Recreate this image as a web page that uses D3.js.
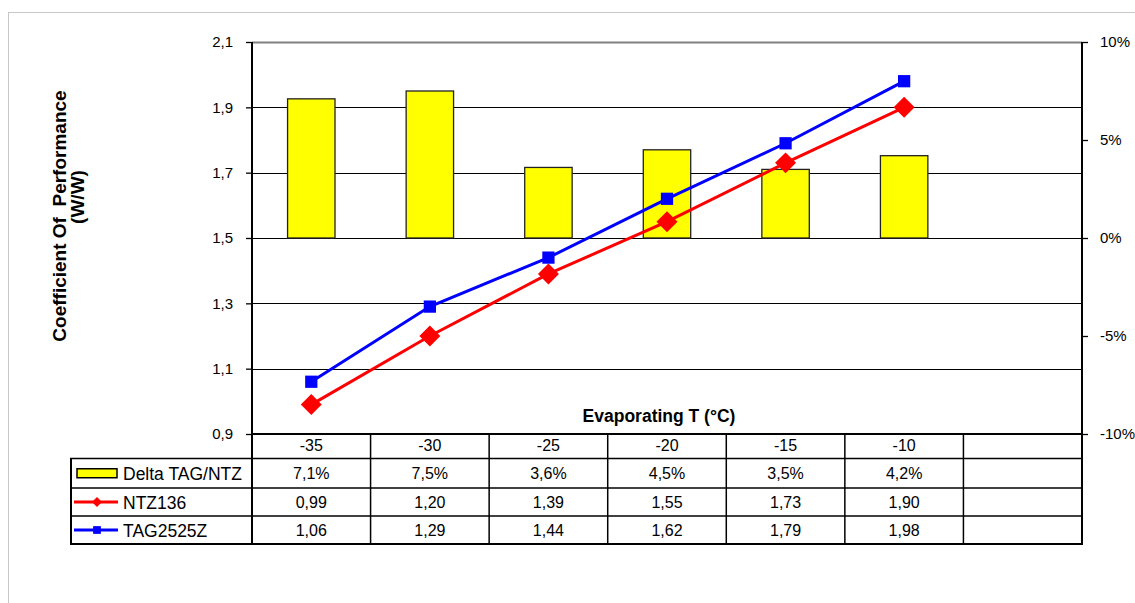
<!DOCTYPE html>
<html><head><meta charset="utf-8">
<script src="https://cdn.jsdelivr.net/npm/d3@7"></script>
<style>
html,body{margin:0;padding:0;background:#fff;}
text{font-family:"Liberation Sans",Arial,sans-serif;}
</style></head>
<body>
<svg id="chart" width="1135" height="603"></svg>
<script>
const categories = ["-35","-30","-25","-20","-15","-10",""];
const deltaValues = [0.071,0.075,0.036,0.045,0.035,0.042];
const ntzValues = [0.99,1.20,1.39,1.55,1.73,1.90];
const tagValues = [1.06,1.29,1.44,1.62,1.79,1.98];
const leftTicks = [0.9,1.1,1.3,1.5,1.7,1.9,2.1];
const rightTicks = [-0.10,-0.05,0,0.05,0.10];
const seriesNames = ["Delta TAG/NTZ","NTZ136","TAG2525Z"];

const loc = d3.formatLocale({decimal:",",thousands:".",grouping:[3],currency:["","€"],percent:"%",minus:"-"});
const fmt1 = loc.format(".1f"), fmt2 = loc.format(".2f"), pct0 = loc.format(".0%"), pct1 = loc.format(".1%");

const svg = d3.select("#chart");
// outer frame
svg.append("rect").attr("x",8.5).attr("y",12.5).attr("width",1200).attr("height",700)
  .attr("fill","none").attr("stroke","#c8c8c8").attr("stroke-width",1);

const L=252, R=1082, T=42, B=434;
const x = d3.scaleBand().domain(categories.map((c,i)=>i)).range([L,R]).paddingInner(0).paddingOuter(0);
const yL = d3.scaleLinear().domain([0.9,2.1]).range([B,T]);
const yR = d3.scaleLinear().domain([-0.10,0.10]).range([B,T]);
const cx = i => x(i)+x.bandwidth()/2;

// gridlines
svg.append("g").selectAll("line").data(leftTicks.slice(1)).join("line")
  .attr("x1",L).attr("x2",R).attr("y1",d=>Math.round(yL(d))+0.5).attr("y2",d=>Math.round(yL(d))+0.5)
  .attr("stroke",(d,i,a)=> i===a.length-1 ? "#808080" : "#000").attr("stroke-width",d=>d===2.1?2:1.2);

// bars
const bw = x.bandwidth()*0.4;
svg.append("g").selectAll("rect").data(deltaValues).join("rect")
  .attr("x",(d,i)=>cx(i)-bw/2).attr("width",bw)
  .attr("y",d=>yR(Math.max(0,d))).attr("height",d=>Math.abs(yR(d)-yR(0)))
  .attr("fill","#ffff00").attr("stroke","#222").attr("stroke-width",1.3);

// axes
const axL = d3.axisLeft(yL).tickValues(leftTicks).tickFormat(fmt1).tickSize(6).tickPadding(13);
const gL = svg.append("g").attr("transform",`translate(${L},0)`).call(axL);
const axR = d3.axisRight(yR).tickValues(rightTicks).tickFormat(pct0).tickSize(6).tickPadding(12);
const gR = svg.append("g").attr("transform",`translate(${R},0)`).call(axR);
[gL,gR].forEach(g=>{
  g.select(".domain").attr("stroke","#000").attr("stroke-width",2).attr("d",`M0,${T}V${B}`);
  g.selectAll(".tick line").attr("stroke","#000").attr("stroke-width",1.3);
  g.selectAll(".tick text").attr("font-size",15).attr("fill","#000").attr("font-family","Liberation Sans, Arial, sans-serif");
});

// lines
const lineGen = d3.line().x((d,i)=>cx(i)).y(d=>yL(d));
svg.append("path").datum(ntzValues).attr("d",lineGen).attr("fill","none").attr("stroke","#ff0000").attr("stroke-width",3);
svg.append("path").datum(tagValues).attr("d",lineGen).attr("fill","none").attr("stroke","#0000ff").attr("stroke-width",3);
svg.append("g").selectAll("path").data(ntzValues).join("path")
  .attr("transform",(d,i)=>`translate(${cx(i)},${yL(d)}) rotate(45)`)
  .attr("d",d3.symbol().type(d3.symbolSquare).size(220)).attr("fill","#ff0000");
svg.append("g").selectAll("path").data(tagValues).join("path")
  .attr("transform",(d,i)=>`translate(${cx(i)},${yL(d)})`)
  .attr("d",d3.symbol().type(d3.symbolSquare).size(150)).attr("fill","#0000ff");

// axis titles
svg.append("text").attr("x",659).attr("y",422).attr("text-anchor","middle")
  .attr("font-size",17.5).attr("font-weight","bold").text("Evaporating T (°C)");
const yt = svg.append("g");
yt.append("text").attr("transform","translate(66,216) rotate(-90)").attr("text-anchor","middle")
  .attr("font-size",19).attr("font-weight","bold").style("white-space","pre").text("Coefficient Of  Performance");
yt.append("text").attr("transform","translate(84,197) rotate(-90)").attr("text-anchor","middle")
  .attr("font-size",19).attr("font-weight","bold").text("(W/W)");

// data table
const rows = [B, 458.5, 488, 516, 544];
const tg = svg.append("g");
tg.selectAll("text.hdr").data(categories).join("text").attr("class","hdr")
  .attr("x",(d,i)=>cx(i)).attr("y",451).attr("text-anchor","middle").attr("font-size",16).text(d=>d);
const tableRows = [deltaValues.map(pct1), ntzValues.map(fmt2), tagValues.map(fmt2)];
tableRows.forEach((vals,r)=>{
  const yc = (rows[r+1]+rows[r+2])/2;
  tg.selectAll(null).data(vals).join("text")
    .attr("x",(d,i)=>cx(i)).attr("y",yc+6).attr("text-anchor","middle").attr("font-size",16).text(d=>d);
  tg.append("text").attr("x",123).attr("y",yc+6.5).attr("font-size",17.5).text(seriesNames[r]);
});
[458.5,488,516].forEach(y=>tg.append("line").attr("x1",70).attr("x2",R).attr("y1",y).attr("y2",y).attr("stroke","#000").attr("stroke-width",1.5));
tg.append("line").attr("x1",70).attr("x2",R+1).attr("y1",544).attr("y2",544).attr("stroke","#000").attr("stroke-width",2);
tg.append("line").attr("x1",71).attr("x2",71).attr("y1",458.5).attr("y2",544).attr("stroke","#000").attr("stroke-width",2);
tg.append("line").attr("x1",L).attr("x2",L).attr("y1",B).attr("y2",544).attr("stroke","#000").attr("stroke-width",2);
tg.append("line").attr("x1",R).attr("x2",R).attr("y1",B).attr("y2",545).attr("stroke","#000").attr("stroke-width",2);
tg.selectAll("line.col").data(categories.slice(1)).join("line").attr("class","col")
  .attr("x1",(d,i)=>x(i+1)).attr("x2",(d,i)=>x(i+1)).attr("y1",B).attr("y2",544).attr("stroke","#000").attr("stroke-width",1.5);
tg.append("line").attr("x1",L-1).attr("x2",R+1).attr("y1",B).attr("y2",B).attr("stroke","#000").attr("stroke-width",2);

// legend keys
const k1 = (rows[1]+rows[2])/2, k2=(rows[2]+rows[3])/2, k3=(rows[3]+rows[4])/2;
tg.append("rect").attr("x",77).attr("y",k1-4.5).attr("width",40).attr("height",9).attr("fill","#ffff00").attr("stroke","#000").attr("stroke-width",1.5);
tg.append("line").attr("x1",74).attr("x2",118).attr("y1",k2).attr("y2",k2).attr("stroke","#ff0000").attr("stroke-width",3);
tg.append("path").attr("transform",`translate(97,${k2}) rotate(45)`).attr("d",d3.symbol().type(d3.symbolSquare).size(50)).attr("fill","#ff0000");
tg.append("line").attr("x1",74).attr("x2",118).attr("y1",k3).attr("y2",k3).attr("stroke","#0000ff").attr("stroke-width",3);
tg.append("path").attr("transform",`translate(97,${k3})`).attr("d",d3.symbol().type(d3.symbolSquare).size(60)).attr("fill","#0000ff");
</script>
</body></html>
